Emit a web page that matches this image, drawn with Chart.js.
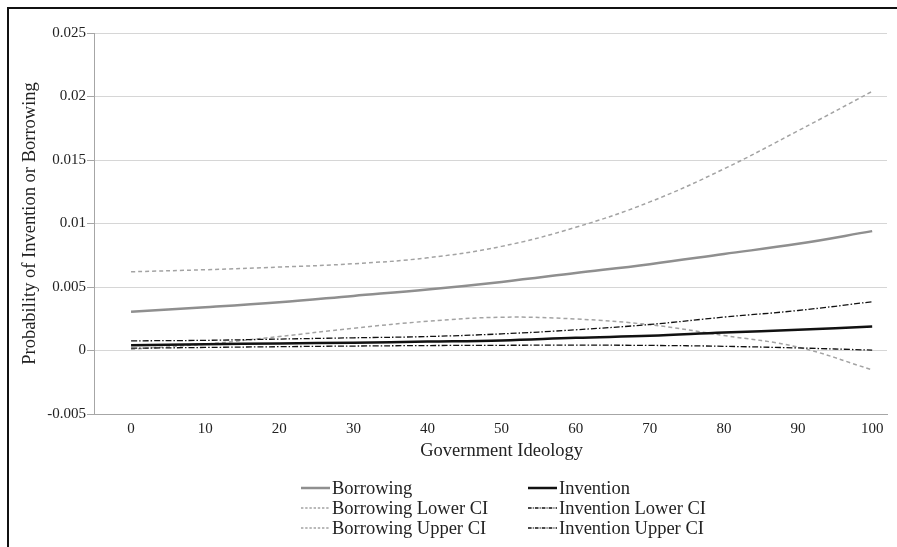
<!DOCTYPE html>
<html>
<head>
<meta charset="utf-8">
<script src="https://cdn.jsdelivr.net/npm/chart.js@4.4.1/dist/chart.umd.min.js"></script>
<style>
  html, body { margin: 0; padding: 0; background: #fff; }
  #wrap { position: relative; width: 897px; height: 547px; }
  #frame { position: absolute; left: 7px; top: 7px; right: 0; bottom: 0;
           border-top: 2px solid #111; border-left: 2px solid #111; pointer-events: none; }
  canvas { display: block; }
</style>
</head>
<body>
<div id="wrap">
  <canvas id="chart" width="897" height="547"></canvas>
  <div id="frame"></div>
</div>
<script>
// Datos
const ideology = [0, 10, 20, 30, 40, 50, 60, 70, 80, 90, 100];
const borrowing      = [0.00305, 0.0034, 0.0038, 0.0043, 0.0048, 0.0054, 0.0061, 0.0068, 0.0076, 0.0084, 0.0094];
const borrowingLower = [0.0001, 0.0005, 0.0011, 0.00175, 0.0023, 0.00262, 0.00248, 0.00203, 0.00118, 0.00026, -0.00152];
const borrowingUpper = [0.0062, 0.00636, 0.00657, 0.00683, 0.0073, 0.0082, 0.0097, 0.0117, 0.0143, 0.0173, 0.0204];
const invention      = [0.00042, 0.0005, 0.00055, 0.00062, 0.0007, 0.00079, 0.001, 0.00116, 0.00142, 0.00163, 0.00189];
const inventionLower = [0.00018, 0.00024, 0.0003, 0.00035, 0.00039, 0.00041, 0.00042, 0.0004, 0.00033, 0.0002, 0.00003];
const inventionUpper = [0.00076, 0.0008, 0.0009, 0.001, 0.0011, 0.00131, 0.00163, 0.00205, 0.00263, 0.00315, 0.00384];
const xTicks = [0, 10, 20, 30, 40, 50, 60, 70, 80, 90, 100];
const xTitle = 'Government Ideology';

const serif = 'Liberation Serif';
const GRAY = '#8f8f8f', GRAY_DASH = '#a3a3a3', BLACK = '#111';

function serie(label, data, color, width, dash, order) {
  return {
    label, order,
    data: ideology.map((x, i) => ({ x, y: data[i] })),
    borderColor: color, backgroundColor: color,
    borderWidth: width, borderDash: dash,
    pointRadius: 0, tension: 0.4, fill: false
  };
}

const datasets = [
  serie('Borrowing', borrowing, GRAY, 2.5, [], 5),
  serie('Borrowing Lower CI', borrowingLower, GRAY_DASH, 1.5, [4, 3], 4),
  serie('Borrowing Upper CI', borrowingUpper, GRAY_DASH, 1.5, [4, 3], 3),
  serie('Invention', invention, BLACK, 2.5, [], 0),
  serie('Invention Lower CI', inventionLower, BLACK, 1.3, [6, 2, 1.5, 2], 2),
  serie('Invention Upper CI', inventionUpper, BLACK, 1.3, [6, 2, 1.5, 2], 1),
];

// Leyenda en dos columnas + título del eje X centrado sobre el rango 0–100
const legendCols = [
  ['Borrowing', 'Borrowing Lower CI', 'Borrowing Upper CI'],
  ['Invention', 'Invention Lower CI', 'Invention Upper CI'],
];
const legendPlugin = {
  id: 'twoColLegend',
  afterDraw(chart) {
    const ctx = chart.ctx;
    const xs = chart.scales.x;
    ctx.save();
    ctx.fillStyle = '#222';
    ctx.font = '18.5px "' + serif + '"';
    ctx.textAlign = 'center';
    ctx.textBaseline = 'middle';
    const xMid = (xs.getPixelForValue(xTicks[0]) + xs.getPixelForValue(xTicks[xTicks.length - 1])) / 2;
    ctx.fillText(xTitle, xMid, 451);

    const colX = [301, 528];
    const rowY = [488, 508, 528];
    ctx.textAlign = 'left';
    legendCols.forEach((col, c) => {
      col.forEach((name, r) => {
        const ds = chart.data.datasets.find(d => d.label === name);
        const x = colX[c], y = rowY[r];
        ctx.beginPath();
        ctx.setLineDash(ds.borderDash.map(v => v * 0.6));
        ctx.strokeStyle = ds.borderColor;
        ctx.lineWidth = ds.borderWidth;
        ctx.moveTo(x, y);
        ctx.lineTo(x + 29, y);
        ctx.stroke();
        ctx.setLineDash([]);
        ctx.fillText(name, x + 31, y + 1);
      });
    });
    ctx.restore();
  }
};

new Chart(document.getElementById('chart'), {
  type: 'line',
  data: { datasets },
  plugins: [legendPlugin],
  options: {
    responsive: false,
    animation: false,
    layout: { padding: { left: 0, right: 10, top: 33, bottom: 85.2 } },
    plugins: { legend: { display: false }, tooltip: { enabled: false } },
    scales: {
      x: {
        type: 'linear', min: -5, max: 102,
        afterBuildTicks: s => { s.ticks = xTicks.map(v => ({ value: v })); },
        afterFit: s => { s.height = 47.8; },
        grid: { display: false, drawTicks: false },
        border: { display: true, color: '#a6a6a6', width: 1 },
        ticks: { padding: 6, color: '#222', font: { family: serif, size: 15 } },
        title: { display: false }
      },
      y: {
        min: -0.005, max: 0.025,
        afterFit: s => { s.width = 94; },
        grid: { color: '#d6d6d6', tickColor: '#a6a6a6', tickLength: 7, lineWidth: 1 },
        border: { display: true, color: '#a6a6a6', width: 1 },
        ticks: { stepSize: 0.005, padding: 1, color: '#222', font: { family: serif, size: 15 },
                 callback: v => String(+v.toFixed(3)) },
        title: { display: true, text: 'Probability of Invention or Borrowing', color: '#222',
                 padding: { top: 19, bottom: 0 }, font: { family: serif, size: 18.5 } }
      }
    }
  }
});
</script>
</body>
</html>
